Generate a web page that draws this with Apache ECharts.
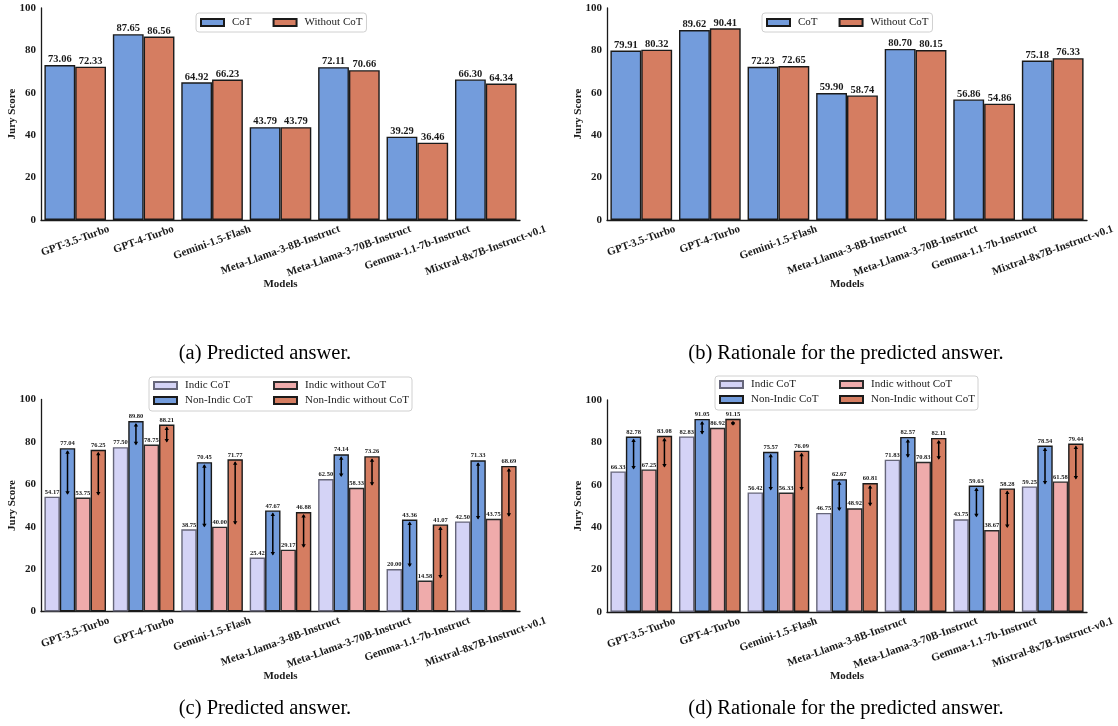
<!DOCTYPE html>
<html><head><meta charset="utf-8">
<script src="https://cdn.jsdelivr.net/npm/echarts@6/dist/echarts.min.js"></script>
<style>html,body{margin:0;padding:0;background:#fff}#c{width:1118px;height:726px}</style>
</head><body><div id="c"></div>
<script>
const models = ['GPT-3.5-Turbo','GPT-4-Turbo','Gemini-1.5-Flash','Meta-Llama-3-8B-Instruct','Meta-Llama-3-70B-Instruct','Gemma-1.1-7b-Instruct','Mixtral-8x7B-Instruct-v0.1'];
const yTicks = [0, 20, 40, 60, 80, 100];
// (a) Predicted answer
const aCoT    = [73.06, 87.65, 64.92, 43.79, 72.11, 39.29, 66.30];
const aNoCoT  = [72.33, 86.56, 66.23, 43.79, 70.66, 36.46, 64.34];
// (b) Rationale
const bCoT    = [79.91, 89.62, 72.23, 59.90, 80.70, 56.86, 75.18];
const bNoCoT  = [80.32, 90.41, 72.65, 58.74, 80.15, 54.86, 76.33];
// (c) Predicted answer, Indic vs Non-Indic
const cIndicCoT      = [54.17, 77.50, 38.75, 25.42, 62.50, 20.00, 42.50];
const cNonIndicCoT   = [77.04, 89.80, 70.45, 47.67, 74.14, 43.36, 71.33];
const cIndicNoCoT    = [53.75, 78.75, 40.00, 29.17, 58.33, 14.58, 43.75];
const cNonIndicNoCoT = [76.25, 88.21, 71.77, 46.88, 73.26, 41.07, 68.69];
// (d) Rationale, Indic vs Non-Indic
const dIndicCoT      = [66.33, 82.83, 56.42, 46.75, 71.83, 43.75, 59.25];
const dNonIndicCoT   = [82.78, 91.05, 75.57, 62.67, 82.57, 59.63, 78.54];
const dIndicNoCoT    = [67.25, 86.92, 56.33, 48.92, 70.83, 38.67, 61.58];
const dNonIndicNoCoT = [83.08, 91.15, 76.09, 60.81, 82.11, 58.28, 79.44];
const captions = ['(a) Predicted answer.', '(b) Rationale for the predicted answer.', '(c) Predicted answer.', '(d) Rationale for the predicted answer.'];

const SERIF = '"Liberation Serif", "Times New Roman", serif';
const INK = '#1a1a1a';
const BLUE = '#739cdc', ORANGE = '#d57d61', LAV = '#d4d3f6', PINK = '#efabab';

const grids = [
  {left: 41, top: 8, width: 479, height: 212},
  {left: 607, top: 8, width: 480, height: 212},
  {left: 41, top: 399.5, width: 479, height: 212},
  {left: 607, top: 400, width: 480, height: 212}
].map(g => Object.assign(g, {outerBoundsMode: 'none', containLabel: false}));

// matplotlib-like rotated labels: bbox centred on tick, bbox top fixed below axis
const ROT = 20, LFS = 11, LH = 12;
const mctx = document.createElement('canvas').getContext('2d');
mctx.font = 'bold ' + LFS + 'px "Liberation Serif"';
const th = ROT * Math.PI / 180;
const catData = models.map(m => {
  const L = mctx.measureText(m).width;
  const Y = (L * Math.sin(th) + LH * Math.cos(th)) / 2;
  const pt = Y * Math.cos(th) - LH / 2;
  const pr = 2 * Y * Math.sin(th);
  return {value: m, textStyle: {align: 'center', verticalAlign: 'top', padding: [pt, pr, 0, 0]}};
});

const xAxes = grids.map((g, i) => ({
  type: 'category', gridIndex: i, data: catData,
  axisLine: {lineStyle: {color: INK, width: 1.3}},
  axisTick: {show: false},
  axisLabel: {interval: 0, rotate: ROT, align: 'center', verticalAlign: 'top', margin: 3, lineHeight: LH,
    fontFamily: SERIF, fontWeight: 'bold', fontSize: LFS, color: INK, hideOverlap: false},
  name: 'Models', nameLocation: 'middle', nameGap: 59, nameMoveOverlap: false,
  nameTextStyle: {fontFamily: SERIF, fontWeight: 'bold', fontSize: 11, color: INK}
}));
const yAxes = grids.map((g, i) => ({
  type: 'value', gridIndex: i, min: yTicks[0], max: yTicks[yTicks.length - 1], interval: yTicks[1] - yTicks[0],
  axisLine: {show: true, lineStyle: {color: INK, width: 1.3}},
  axisTick: {show: false}, splitLine: {show: false},
  axisLabel: {fontFamily: SERIF, fontWeight: 'bold', fontSize: 11, color: INK, margin: 5},
  name: 'Jury Score', nameLocation: 'middle', nameGap: 23, nameMoveOverlap: false,
  nameTextStyle: {fontFamily: SERIF, fontWeight: 'bold', fontSize: 11, color: INK}
}));

function bar(name, data, gi, color, edge, fs, dist) {
  return {
    type: 'bar', name, data, xAxisIndex: gi, yAxisIndex: gi,
    barGap: '0%', barCategoryGap: '10%',
    itemStyle: {color, borderColor: edge, borderWidth: 1.4},
    label: {show: true, position: 'top', distance: dist, fontFamily: SERIF, fontWeight: 'bold',
      fontSize: fs, color: INK, formatter: p => p.value.toFixed(2)},
    emphasis: {disabled: true}, z: 2
  };
}
function arrows(low, high, gi, slot) {
  return {
    type: 'custom', xAxisIndex: gi, yAxisIndex: gi, z: 10, silent: true,
    data: low.map((l, i) => [i, l, high[i]]),
    encode: {x: 0, y: [1, 2]},
    renderItem(params, api) {
      const band = api.size([1, 0])[0];
      const w = 0.9 * band / 4;
      const cx = api.coord([api.value(0), 0])[0] - 0.45 * band + (slot + 0.5) * w;
      const y1 = api.coord([api.value(0), api.value(1)])[1];
      const y2 = api.coord([api.value(0), api.value(2)])[1];
      const top = Math.min(y1, y2) + 2, bot = Math.max(y1, y2) - 2;
      const hw = 2.2, hh = 3.5;
      return {type: 'group', children: [
        {type: 'line', shape: {x1: cx, y1: top + 1, x2: cx, y2: bot - 1}, style: {stroke: '#000', lineWidth: 1.5}},
        {type: 'polygon', shape: {points: [[cx, top], [cx - hw, top + hh], [cx + hw, top + hh]]}, style: {fill: '#000'}},
        {type: 'polygon', shape: {points: [[cx, bot], [cx - hw, bot - hh], [cx + hw, bot - hh]]}, style: {fill: '#000'}}
      ]};
    }
  };
}

const series = [
  bar('CoT', aCoT, 0, BLUE, INK, 10.5, 0),
  bar('Without CoT', aNoCoT, 0, ORANGE, INK, 10.5, 0),
  bar('CoT', bCoT, 1, BLUE, INK, 10.5, 0),
  bar('Without CoT', bNoCoT, 1, ORANGE, INK, 10.5, 0),
  bar('Indic CoT', cIndicCoT, 2, LAV, '#66667a', 6.5, 1),
  bar('Non-Indic CoT', cNonIndicCoT, 2, BLUE, INK, 6.5, 1),
  bar('Indic without CoT', cIndicNoCoT, 2, PINK, '#2a2a2a', 6.5, 1),
  bar('Non-Indic without CoT', cNonIndicNoCoT, 2, ORANGE, INK, 6.5, 1),
  bar('Indic CoT', dIndicCoT, 3, LAV, '#66667a', 6.5, 1),
  bar('Non-Indic CoT', dNonIndicCoT, 3, BLUE, INK, 6.5, 1),
  bar('Indic without CoT', dIndicNoCoT, 3, PINK, '#2a2a2a', 6.5, 1),
  bar('Non-Indic without CoT', dNonIndicNoCoT, 3, ORANGE, INK, 6.5, 1),
  arrows(cIndicCoT, cNonIndicCoT, 2, 1),
  arrows(cIndicNoCoT, cNonIndicNoCoT, 2, 3),
  arrows(dIndicCoT, dNonIndicCoT, 3, 1),
  arrows(dIndicNoCoT, dNonIndicNoCoT, 3, 3)
];

const legBase = {
  icon: 'rect', itemWidth: 23, itemHeight: 7, itemGap: 21,
  borderColor: '#d0d0d0', borderWidth: 1, borderRadius: 3, backgroundColor: '#fff',
  textStyle: {fontFamily: SERIF, fontSize: 11, color: INK, padding: [0, 0, 0, 3]}
};
const colLeg = (left, top, data) => Object.assign({}, legBase, {
  orient: 'vertical', itemGap: 4, padding: [3, 4, 4, 4], borderWidth: 0, backgroundColor: 'transparent',
  left, top, data
});
const legends = [
  Object.assign({}, legBase, {left: 196, top: 13, padding: [4, 4, 4, 4], data: ['CoT', 'Without CoT']}),
  Object.assign({}, legBase, {left: 762, top: 13, padding: [4, 4, 4, 4], data: ['CoT', 'Without CoT']}),
  colLeg(149, 377, ['Indic CoT', 'Non-Indic CoT']),
  colLeg(269, 377, ['Indic without CoT', 'Non-Indic without CoT']),
  colLeg(715, 376, ['Indic CoT', 'Non-Indic CoT']),
  colLeg(835, 376, ['Indic without CoT', 'Non-Indic without CoT'])
];

const capPos = [[265, 354], [846, 354], [265, 709], [846, 709]];
const graphic = captions.map((t, i) => ({
  type: 'text', x: capPos[i][0], y: capPos[i][1], silent: true,
  style: {text: t, fill: '#000', font: '20.5px "Liberation Serif", serif',
    align: 'center', verticalAlign: 'middle', textAlign: 'center', textVerticalAlign: 'middle'}
}));
// legend frames for the two-column legends
[[149, 377], [715, 376]].forEach(p => graphic.push({
  type: 'rect', x: p[0], y: p[1], z: -1, silent: true,
  shape: {width: 263, height: 34, r: 3},
  style: {fill: '#fff', stroke: '#d0d0d0', lineWidth: 1}
}));

const chart = echarts.init(document.getElementById('c'), null, {renderer: 'canvas'});
chart.setOption({
  animation: false, backgroundColor: '#fff',
  grid: grids, xAxis: xAxes, yAxis: yAxes, series, legend: legends, graphic
});
</script></body></html>
